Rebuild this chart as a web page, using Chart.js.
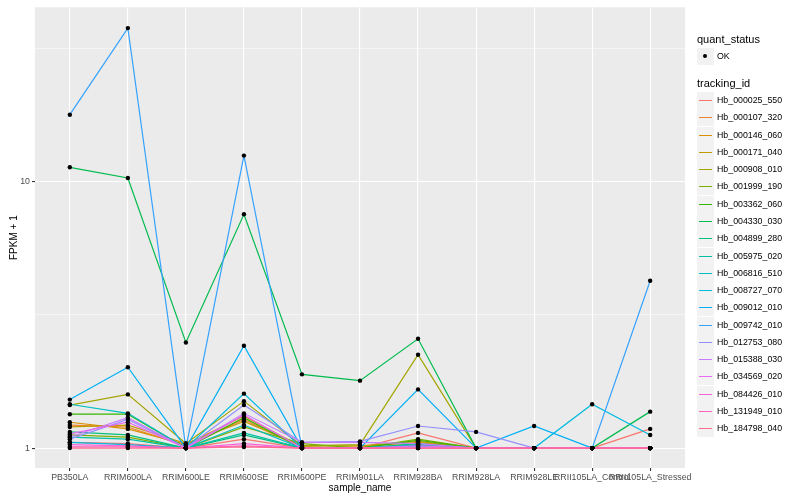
<!DOCTYPE html>
<html>
<head>
<meta charset="utf-8">
<script src="https://cdn.jsdelivr.net/npm/chart.js@4/dist/chart.umd.min.js"></script>
<style>
  body { margin: 0; background: #fff; font-family: "Liberation Sans", Arial, sans-serif; }
  #wrap { position: relative; width: 800px; height: 500px; }
  #legend { position: absolute; left: 697px; top: 0; font-size: 8.8px; color: #000; }
  .ltitle { position: absolute; font-size: 11px; white-space: nowrap; }
  .key { position: absolute; width: 17px; height: 17px; background: #F2F2F2; }
  .key i { position: absolute; left: 2px; width: 13px; top: 8px; height: 0; border-top: 1.5px solid; }
  .lab { position: absolute; white-space: nowrap; }
</style>
</head>
<body>
<div id="wrap">
  <canvas id="chart" width="800" height="500"></canvas>
  <div id="legend"></div>
</div>
<script>
// categories (sample_name)
const samples = [
  "PB350LA", "RRIM600LA", "RRIM600LE", "RRIM600SE", "RRIM600PE", "RRIM901LA",
  "RRIM928BA", "RRIM928LA", "RRIM928LE", "RRII105LA_Control", "RRII105LA_Stressed",
];

// tracking_id
const genes = [
  "Hb_000025_550", "Hb_000107_320", "Hb_000146_060", "Hb_000171_040", "Hb_000908_010",
  "Hb_001999_190", "Hb_003362_060", "Hb_004330_030", "Hb_004899_280", "Hb_005975_020",
  "Hb_006816_510", "Hb_008727_070", "Hb_009012_010", "Hb_009742_010", "Hb_012753_080",
  "Hb_015388_030", "Hb_034569_020", "Hb_084426_010", "Hb_131949_010", "Hb_184798_040",
];

// ggplot hue palette, 20 levels
const colors = [
  "#F8766D", "#EA8331", "#D89000", "#C09B00", "#A3A500", "#7CAE00", "#39B600", "#00BB4E",
  "#00BF7D", "#00C1A3", "#00BFC4", "#00BAE0", "#00B0F6", "#35A2FF", "#9590FF", "#C77CFF",
  "#E76BF3", "#FA62DB", "#FF62BC", "#FF6C91",
];

// FPKM + 1, one row per gene, one value per sample
const fpkm = [
  [1.05, 1.04, 1.00, 1.08, 1.00, 1.00, 1.14, 1.00, 1.00, 1.00, 1.18],
  [1.22, 1.20, 1.02, 1.28, 1.00, 1.01, 1.05, 1.00, 1.00, 1.00, 1.00],
  [1.25, 1.18, 1.03, 1.32, 1.01, 1.00, 1.03, 1.00, 1.00, 1.00, 1.00],
  [1.20, 1.22, 1.04, 1.26, 1.02, 1.02, 1.06, 1.00, 1.00, 1.00, 1.00],
  [1.45, 1.59, 1.04, 1.50, 1.02, 1.03, 2.24, 1.00, 1.00, 1.00, 1.00],
  [1.12, 1.10, 1.00, 1.20, 1.04, 1.00, 1.08, 1.00, 1.00, 1.00, 1.00],
  [1.34, 1.34, 1.00, 1.30, 1.00, 1.00, 1.07, 1.00, 1.00, 1.00, 1.00],
  [11.3, 10.3, 2.49, 7.53, 1.89, 1.79, 2.57, 1.00, 1.00, 1.00, 1.37],
  [1.15, 1.12, 1.00, 1.12, 1.00, 1.00, 1.04, 1.00, 1.00, 1.00, 1.00],
  [1.10, 1.08, 1.00, 1.14, 1.00, 1.00, 1.03, 1.00, 1.00, 1.00, 1.00],
  [1.46, 1.35, 1.00, 1.22, 1.00, 1.00, 1.02, 1.00, 1.00, 1.00, 1.00],
  [1.05, 1.03, 1.00, 1.60, 1.00, 1.00, 1.02, 1.00, 1.00, 1.46, 1.12],
  [1.52, 2.01, 1.00, 2.42, 1.00, 1.00, 1.66, 1.00, 1.21, 1.00, 1.00],
  [17.8, 37.6, 1.00, 12.5, 1.00, 1.00, 1.00, 1.00, 1.00, 1.00, 4.24],
  [1.08, 1.28, 1.00, 1.45, 1.05, 1.06, 1.21, 1.15, 1.00, 1.00, 1.00],
  [1.10, 1.30, 1.00, 1.35, 1.05, 1.05, 1.04, 1.00, 1.00, 1.00, 1.00],
  [1.13, 1.25, 1.00, 1.33, 1.00, 1.00, 1.02, 1.00, 1.00, 1.00, 1.00],
  [1.03, 1.02, 1.00, 1.04, 1.00, 1.00, 1.00, 1.00, 1.00, 1.00, 1.00],
  [1.01, 1.01, 1.00, 1.02, 1.00, 1.00, 1.00, 1.00, 1.00, 1.00, 1.00],
  [1.00, 1.00, 1.00, 1.01, 1.00, 1.00, 1.00, 1.00, 1.00, 1.00, 1.00],
];

const yTicks = [1, 10];
const yMinor = [3.1623, 31.623];

const FONT = "'Liberation Sans', Arial, sans-serif";

const datasets = genes.map((g, i) => ({
  label: g,
  data: fpkm[i].map((v, j) => ({ x: j, y: v })),
  showLine: true,
  borderColor: colors[i],
  borderWidth: 1.2,
  pointRadius: 0,
  fill: false,
  order: genes.length - i + 1,
}));

// black points (quant_status OK) drawn over all lines
datasets.push({
  label: "OK",
  data: fpkm.flatMap(row => row.map((v, j) => ({ x: j, y: v }))),
  showLine: false,
  pointRadius: 2.2,
  pointBackgroundColor: "#000",
  pointBorderWidth: 0,
  order: 0,
});

const panelBg = {
  id: "panelBg",
  beforeDraw(chart) {
    const a = chart.chartArea;
    const ctx = chart.ctx;
    ctx.save();
    ctx.fillStyle = "#EBEBEB";
    ctx.fillRect(a.left, a.top, a.right - a.left, a.bottom - a.top);
    ctx.restore();
  },
};

new Chart(document.getElementById("chart"), {
  type: "scatter",
  data: { datasets },
  options: {
    responsive: false,
    animation: false,
    layout: { padding: { top: 4, right: 115, left: 0, bottom: 0 } },
    plugins: { legend: { display: false }, tooltip: { enabled: false } },
    scales: {
      x: {
        type: "linear",
        min: -0.6,
        max: samples.length - 0.4,
        afterBuildTicks: s => { s.ticks = samples.map((c, i) => ({ value: i })); },
        afterFit: s => { s.height = 32; },
        border: { display: false },
        grid: { color: "#FFFFFF", lineWidth: 1.1, tickColor: "#333333", tickLength: 3 },
        ticks: {
          autoSkip: false, maxRotation: 0, padding: 1, color: "#4D4D4D",
          font: { family: FONT, size: 8.8 },
          callback: v => samples[v],
        },
        title: {
          display: true, text: "sample_name", color: "#000",
          font: { family: FONT, size: 10 }, padding: { top: 0, bottom: 6 },
        },
      },
      y: {
        type: "logarithmic",
        min: 0.842,
        max: 45,
        afterBuildTicks: s => {
          s.ticks = yTicks.concat(yMinor).sort((a, b) => a - b).map(v => ({ value: v }));
        },
        afterFit: s => { s.width = 35; },
        border: { display: false },
        grid: {
          color: "#FFFFFF",
          lineWidth: c => (yTicks.includes(c.tick.value) ? 1.1 : 0.5),
          tickColor: c => (yTicks.includes(c.tick.value) ? "#333333" : "rgba(0,0,0,0)"),
          tickLength: 3,
        },
        ticks: {
          padding: 2, color: "#4D4D4D",
          font: { family: FONT, size: 8.8 },
          callback: v => (yTicks.includes(v) ? String(v) : ""),
        },
        title: {
          display: true, text: "FPKM + 1", color: "#000",
          font: { family: FONT, size: 10 }, padding: { top: 8, bottom: 0 },
        },
      },
    },
  },
  plugins: [panelBg],
});

// ggplot-style legend
const leg = document.getElementById("legend");
let html = '<div class="ltitle" style="left:0;top:33px">quant_status</div>';
html += '<div class="key" style="left:0;top:48px"><span style="position:absolute;left:6px;top:6px;width:4px;height:4px;border-radius:2px;background:#000"></span></div>';
html += '<div class="lab" style="left:20px;top:51px">OK</div>';
html += '<div class="ltitle" style="left:0;top:77px">tracking_id</div>';
genes.forEach((g, i) => {
  const top = Math.round(92 + i * 17.28);
  html += '<div class="key" style="left:0;top:' + top + 'px"><i style="border-color:' + colors[i] + '"></i></div>';
  html += '<div class="lab" style="left:20px;top:' + (top + 3) + 'px">' + g + "</div>";
});
leg.innerHTML = html;
</script>
</body>
</html>
